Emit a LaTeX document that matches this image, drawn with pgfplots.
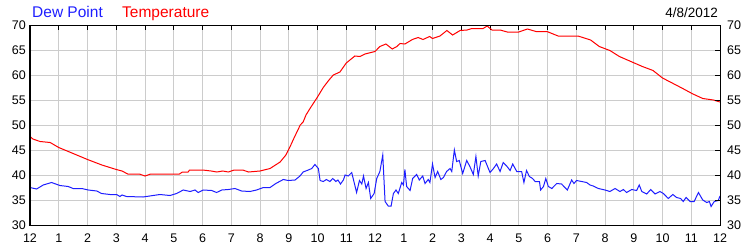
\documentclass[border=0pt]{standalone}
\usepackage{pgfplots}
\pgfplotsset{compat=1.18}
\usepackage{fontspec}
\setmainfont{Liberation Sans}
\definecolor{tempred}{RGB}{255,0,0}
\definecolor{dewblue}{RGB}{30,30,255}
\definecolor{gridgray}{RGB}{204,204,204}
\pgfplotsset{
  common/.style={
    scale only axis, width=690pt, height=200pt,
    at={(0pt,0pt)}, anchor=south west,
    xmin=0, xmax=24, ymin=30, ymax=70,
    xtick={0,...,24}, ytick={30,35,...,70},
    /pgf/number format/assume math mode=true,
    tick label style={font=\fontsize{12.5}{14}\selectfont, inner sep=0pt},
    axis line style={black, line width=1pt},
    tick style={black, line width=1pt},
    tick align=inside, major tick length=5pt,
  }
}
\begin{document}
\begin{tikzpicture}
\begin{axis}[common,
  grid=major, major grid style={gridgray, line width=1pt},
  xtick pos=upper, ytick pos=upper,
  xticklabel pos=lower, yticklabel pos=lower,
  xticklabels={12,1,2,3,4,5,6,7,8,9,10,11,12,1,2,3,4,5,6,7,8,9,10,11,12},
  xticklabel style={anchor=north, yshift=-9pt},
  yticklabel style={anchor=east, xshift=-4pt},
]
\addplot[tempred, line width=1pt] coordinates {
(0,47.7) (0.1,47.2) (0.35,46.7) (0.7,46.5) (1.0,45.5) (1.5,44.3) (2.0,43.1) (2.5,42.0) (3.0,41.1) (3.2,40.8) (3.4,40.2) (3.8,40.2) (4.0,39.8) (4.2,40.2) (5.0,40.2) (5.2,40.2) (5.3,40.6) (5.5,40.6) (5.55,41.0) (6.0,41.0) (6.3,40.8) (6.5,40.6) (6.7,40.8) (6.9,40.6) (7.1,41.0) (7.4,41.0) (7.6,40.6) (8.0,40.8) (8.35,41.3) (8.7,42.6) (8.9,44.0) (9.04,45.6) (9.2,47.6) (9.4,50.0) (9.5,50.6) (9.6,52.0) (9.75,53.4) (10.0,55.6) (10.2,57.5) (10.4,59.0) (10.55,60.0) (10.78,60.6) (11.0,62.4) (11.3,63.8) (11.48,63.7) (11.65,64.2) (12.0,64.7) (12.17,65.7) (12.38,66.2) (12.6,65.2) (12.76,65.7) (12.87,66.3) (13.04,66.2) (13.3,67.1) (13.5,67.5) (13.67,67.1) (13.9,67.7) (14.0,67.3) (14.26,67.8) (14.5,68.9) (14.7,68.0) (14.96,68.9) (15.2,69.0) (15.37,69.3) (15.76,69.3) (15.9,69.8) (16.07,69.0) (16.35,69.0) (16.6,68.6) (17.0,68.6) (17.3,69.2) (17.6,68.7) (17.98,68.7) (18.37,67.8) (19.06,67.8) (19.5,67.0) (19.8,65.7) (20.17,64.9) (20.5,63.7) (20.98,62.5) (21.3,61.7) (21.67,60.9) (22.0,59.4) (22.37,58.3) (22.67,57.4) (23.06,56.2) (23.4,55.3) (23.77,55.0) (24.0,54.6)
};
\addplot[dewblue, line width=1pt] coordinates {
(0,37.5) (0.23,37.2) (0.46,38.0) (0.75,38.5) (1.04,37.9) (1.33,37.7) (1.5,37.3) (1.8,37.3) (2.03,37.0) (2.32,36.8) (2.49,36.3) (2.78,36.1) (3.01,36.1) (3.13,35.7) (3.2,36.0) (3.36,35.7) (3.93,35.6) (4.28,35.9) (4.52,36.1) (4.87,35.9) (5.1,36.3) (5.33,37.0) (5.57,36.7) (5.74,37.0) (5.85,36.5) (6.03,37.0) (6.32,36.9) (6.49,36.5) (6.67,37.0) (6.9,37.1) (7.13,37.3) (7.36,36.8) (7.65,36.7) (7.88,37.0) (8.12,37.5) (8.35,37.5) (8.55,38.3) (8.81,39.1) (8.98,38.9) (9.22,39.0) (9.39,39.8) (9.5,40.6) (9.68,41.0) (9.8,41.3) (9.91,42.1) (10.03,41.3) (10.09,38.9) (10.2,38.7) (10.31,39.1) (10.43,38.7) (10.53,39.3) (10.64,38.7) (10.71,39.0) (10.8,38.2) (10.9,39.0) (10.96,40.0) (11.07,39.8) (11.19,40.5) (11.36,36.5) (11.46,38.9) (11.54,38.2) (11.6,39.8) (11.69,37.3) (11.77,38.5) (11.85,35.3) (11.97,36.3) (12.06,39.3) (12.17,40.7) (12.27,44.0) (12.35,34.7) (12.46,33.8) (12.56,33.8) (12.64,36.3) (12.73,37.0) (12.81,36.3) (12.93,38.5) (12.99,38.0) (13.04,41.1) (13.1,37.7) (13.22,36.9) (13.31,39.3) (13.45,40.1) (13.54,39.0) (13.66,39.8) (13.74,38.3) (13.85,39.1) (13.91,38.5) (14.0,42.2) (14.09,39.5) (14.18,40.7) (14.29,39.1) (14.38,39.5) (14.49,40.7) (14.61,41.3) (14.67,40.7) (14.76,45.0) (14.84,42.7) (14.93,42.9) (15.05,40.3) (15.19,42.9) (15.3,41.7) (15.42,40.1) (15.51,43.7) (15.59,39.8) (15.68,42.7) (15.83,42.9) (16.0,40.5) (16.12,41.3) (16.23,42.2) (16.35,40.7) (16.46,42.5) (16.58,41.8) (16.7,40.9) (16.79,42.2) (16.93,40.7) (17.1,40.7) (17.18,38.5) (17.27,40.9) (17.37,39.7) (17.48,39.3) (17.57,38.7) (17.72,38.7) (17.76,37.0) (17.86,37.7) (17.94,39.3) (18.03,37.7) (18.15,37.3) (18.32,38.3) (18.49,38.2) (18.57,37.7) (18.69,37.0) (18.84,39.0) (18.92,38.3) (19.01,38.9) (19.19,38.7) (19.36,38.5) (19.48,38.0) (19.59,37.8) (19.77,37.3) (20.0,37.0) (20.17,36.7) (20.35,37.3) (20.52,36.7) (20.64,37.1) (20.75,36.5) (20.93,37.1) (21.1,36.9) (21.19,38.0) (21.28,36.7) (21.45,36.2) (21.59,37.1) (21.74,36.2) (21.91,36.7) (22.03,36.3) (22.2,35.3) (22.36,36.1) (22.49,35.5) (22.63,35.3) (22.72,34.7) (22.82,35.5) (22.96,34.7) (23.1,34.7) (23.25,36.5) (23.4,35.0) (23.54,34.5) (23.63,34.7) (23.69,33.7) (23.8,34.7) (23.94,34.9) (24.0,35.8)
};
\end{axis}
\begin{axis}[common,
  xtick=\empty,
  ytick pos=upper, yticklabel pos=upper,
  yticklabel style={anchor=west, xshift=7pt},
]
\end{axis}
\node[anchor=base west, inner sep=0pt, text=dewblue, font=\fontsize{15.5}{18}\selectfont] at (2pt,207.7pt) {Dew Point};
\node[anchor=base west, inner sep=0pt, text=tempred, font=\fontsize{15.5}{18}\selectfont] at (92pt,207.7pt) {Temperature};
\node[anchor=base east, inner sep=0pt, font=\fontsize{13.5}{16}\selectfont] at (688pt,207.7pt) {4/8/2012};
\pgfresetboundingbox
\path[use as bounding box] (-30pt,-25pt) rectangle (720pt,225pt);
\end{tikzpicture}
\end{document}
